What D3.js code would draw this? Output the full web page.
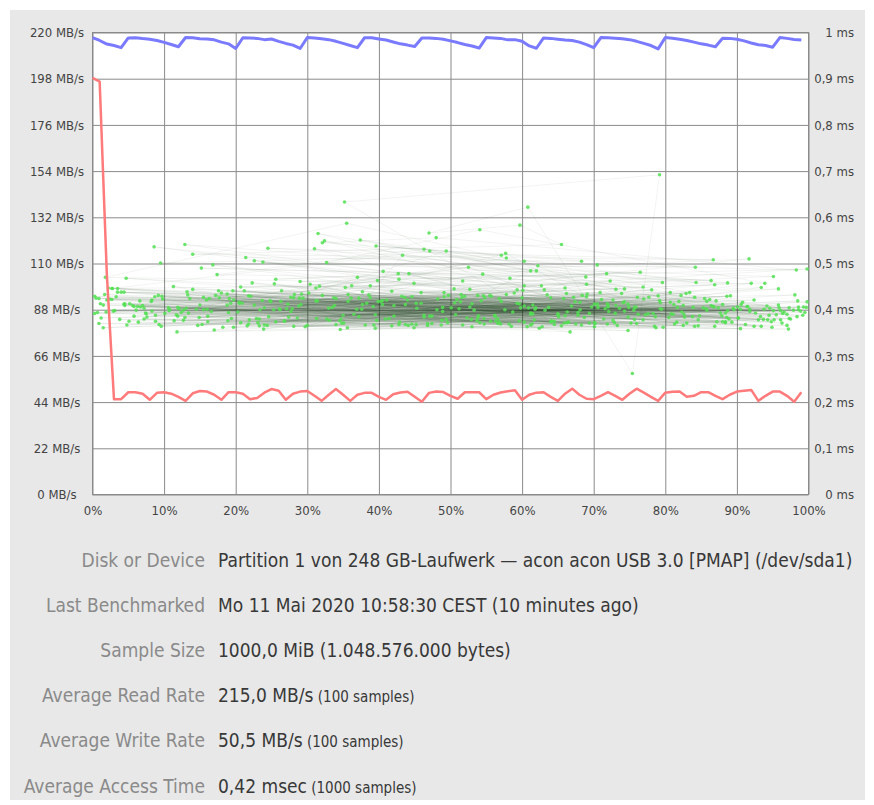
<!DOCTYPE html>
<html>
<head>
<meta charset="utf-8">
<script src="https://cdn.jsdelivr.net/npm/d3@7"></script>
<style>
  html, body { margin: 0; padding: 0; background: #fff; }
  svg { display: block; font-family: "DejaVu Sans Condensed", "DejaVu Sans", sans-serif; font-stretch: condensed; }
</style>
</head>
<body>
<div id="chart"></div>
<script>
// Read rate in MB/s, one sample per 1% of the disk.
const readRate = [
  217.6, 216.2, 214.5, 213.8, 212.8, 217.4, 217.5, 217.1, 216.8, 216.2,
  215.3, 214.3, 213.2, 217.6, 217.5, 217.0, 216.9, 216.5, 215.4, 214.6,
  212.4, 217.5, 217.4, 217.2, 216.6, 216.9, 215.8, 214.8, 214.0, 212.4,
  217.6, 217.4, 217.0, 216.6, 215.8, 214.8, 213.8, 212.8, 217.5, 217.5,
  216.9, 216.4, 215.5, 214.6, 214.0, 213.3, 217.4, 217.4, 217.2, 216.8,
  216.0, 215.2, 214.3, 213.6, 212.6, 217.6, 217.4, 217.2, 216.5, 216.6,
  215.8, 213.6, 212.5, 217.4, 217.2, 216.8, 216.4, 216.2, 215.4, 214.2,
  212.8, 217.6, 217.5, 217.3, 217.0, 216.6, 215.8, 214.8, 213.8, 212.2,
  217.6, 217.3, 216.8, 216.2, 215.4, 214.6, 214.0, 213.2, 217.3, 217.2,
  216.8, 216.0, 215.0, 214.2, 213.8, 213.0, 217.6, 217.2, 216.7, 216.4
];

// Write rate in MB/s, one sample per 1% of the disk.
const writeRate = [
  198.4, 196.6, 105.0, 45.4, 45.4, 48.7, 48.7, 48.0, 45.1, 48.4,
  48.7, 48.0, 46.5, 44.6, 48.2, 49.3, 49.0, 47.5, 45.1, 48.7,
  48.7, 48.0, 45.4, 46.0, 48.5, 50.2, 49.4, 45.1, 48.0, 49.0,
  49.3, 47.0, 44.6, 47.5, 50.2, 47.5, 44.6, 47.5, 48.4, 48.4,
  46.5, 45.1, 47.7, 48.6, 48.9, 46.5, 44.2, 48.4, 49.0, 48.8,
  47.0, 45.6, 48.7, 48.7, 48.7, 45.4, 47.5, 48.6, 49.2, 49.6,
  45.1, 47.5, 48.5, 48.7, 46.5, 44.6, 48.0, 50.4, 47.5, 45.6,
  45.4, 47.0, 48.7, 47.0, 45.1, 48.0, 50.4, 48.5, 46.5, 44.6,
  48.5, 48.9, 49.0, 46.5, 47.0, 48.7, 48.7, 47.0, 45.4, 47.5,
  49.0, 49.4, 49.8, 44.6, 47.0, 49.0, 49.0, 47.0, 44.2, 48.7
];

// Access time samples in sample order: offset in per mille of the disk.
const accessOffset = [
  512, 87, 933, 264, 701, 45, 388, 826, 159, 617, 973, 302, 468, 741, 19, 555, 226, 889, 403, 660,
  134, 792, 351, 578, 9, 905, 442, 687, 273, 846, 520, 61, 958, 397, 723, 188, 614, 35, 867, 489,
  777, 246, 993, 428, 113, 650, 310, 871, 537, 72, 709, 182, 945, 361, 598, 27, 816, 459, 239, 684,
  566, 920, 205, 743, 381, 98, 631, 857, 292, 474, 15, 760, 543, 168, 902, 335, 690, 51, 418, 812,
  357, 640, 121, 981, 507, 254, 733, 83, 884, 436, 619, 196, 952, 288, 577, 730, 3, 841, 376, 149,
  901, 463, 218, 675, 40, 793, 529, 317, 966, 106, 612, 449, 855, 274, 720, 589, 170, 938, 345, 66,
  694, 291, 829, 153, 548, 986, 414, 22, 757, 603, 237, 879, 370, 127, 655, 497, 915, 75, 781, 331,
  441, 862, 190, 627, 56, 748, 386, 963, 279, 571, 811, 132, 494, 706, 324, 918, 5, 645, 209, 539,
  985, 347, 720, 92, 582, 253, 834, 471, 163, 607, 942, 398, 31, 769, 516, 231, 880, 662, 117, 453,
  268, 596, 823, 140, 711, 48, 959, 433, 365, 674, 207, 891, 527, 12, 748, 304, 585, 926, 177, 632,
  853, 119, 474, 908, 282, 663, 35, 547, 797, 226, 989, 411, 601, 88, 736, 350, 869, 193, 570, 446,
  651, 314, 948, 58, 533, 807, 244, 719, 427, 160, 886, 372, 624, 997, 101, 488, 770, 261, 934, 568,
  17, 783, 399, 645, 212, 874, 562, 96, 727, 338, 975, 481, 155, 603, 830, 277, 691, 45, 517, 914,
  388, 702, 131, 955, 459, 297, 819, 612, 70, 743, 523, 189, 896, 340, 667, 7, 786, 432, 240, 961,
  576, 223, 848, 405, 93, 681, 321, 934, 509, 166, 762, 44, 637, 872, 281, 494, 979, 129, 705, 356,
  827, 67, 541, 289, 756, 998, 418, 180, 615, 864, 233, 491, 29, 719, 362, 946, 593, 114, 678, 440,
  203, 628, 906, 357, 82, 772, 501, 256, 841, 593, 145, 984, 315, 701, 468, 27, 858, 546, 194, 759,
  482, 937, 107, 669, 393, 822, 249, 562, 15, 716, 377, 893, 150, 640, 964, 300, 807, 58, 525, 681,
  729, 188, 612, 52, 895, 340, 658, 973, 421, 124, 785, 263, 538, 887, 76, 449, 697, 218, 924, 369,
  615, 3, 846, 277, 530, 749, 176, 992, 405, 663, 330, 97, 808, 452, 240, 951, 583, 136, 714, 868,
  294, 556, 918, 161, 790, 437, 63, 683, 353, 877, 514, 229, 949, 600, 108, 739, 395, 825, 20, 566,
  961, 205, 672, 429, 839, 88, 515, 757, 312, 986, 147, 618, 886, 372, 44, 701, 262, 545, 805, 191,
  463, 731, 33, 587, 912, 248, 795, 133, 641, 377, 970, 489, 216, 858, 527, 83, 694, 337, 609, 902,
  172, 650, 383, 924, 271, 557, 838, 11, 721, 446, 197, 995, 603, 327, 761, 119, 884, 491, 234, 678,
  817, 348, 568, 74, 743, 286, 958, 421, 635, 155, 869, 506, 24, 776, 392, 943, 221, 660, 793, 530,
  47, 312, 578, 843, 129, 406, 690, 951, 238, 517, 769, 18, 355, 622, 887, 174, 463, 731, 290, 998,
  603, 86, 428, 765, 207, 939, 541, 327, 864, 152, 689, 471, 28, 796, 374, 620, 256, 917, 505, 718,
  395, 825, 118, 659, 281, 972, 547, 64, 748, 437, 197, 880, 346, 612, 9, 787, 496, 233, 905, 563,
  161, 727, 452, 38, 884, 313, 596, 970, 219, 665, 409, 813, 127, 538, 268, 752, 930, 487, 72, 641,
  352, 792, 754, 608, 470, 597, 655, 140, 867, 245, 705, 983, 480, 321, 571, 95, 842, 396, 683, 214
];

// Access time of each sample in microseconds.
const accessTime = [
  402, 428, 385, 441, 372, 409, 452, 390, 421, 378, 404, 436, 366, 415, 395, 431, 506, 380, 418, 447,
  393, 420, 371, 433, 424, 401, 478, 383, 412, 365, 429, 399, 445, 377, 462, 410, 369, 438, 407, 396,
  427, 385, 406, 368, 450, 391, 532, 419, 376, 403, 437, 362, 388, 425, 404, 446, 373, 414, 358, 431,
  381, 457, 416, 397, 367, 423, 443, 402, 434, 386, 410, 370, 419, 497, 382, 405, 428, 375, 440, 411,
  418, 374, 402, 432, 389, 456, 366, 421, 393, 427, 404, 441, 378, 408, 522, 392, 429, 364, 401, 383,
  406, 388, 430, 369, 438, 415, 379, 451, 395, 404, 484, 361, 424, 384, 409, 436, 356, 401, 376, 419,
  392, 411, 435, 368, 426, 400, 381, 447, 405, 373, 420, 387, 470, 399, 365, 431, 407, 391, 443, 377,
  366, 422, 394, 452, 409, 384, 432, 371, 402, 418, 390, 439, 379, 405, 549, 396, 425, 368, 414, 387,
  419, 380, 406, 431, 369, 400, 437, 386, 424, 363, 408, 463, 398, 378, 427, 372, 411, 435, 389, 403,
  376, 413, 395, 444, 422, 367, 404, 518, 390, 417, 372, 430, 406, 382, 412, 455, 364, 393, 426, 399,
  404, 386, 370, 416, 433, 395, 446, 381, 362, 410, 397, 421, 442, 375, 403, 388, 454, 414, 369, 428,
  385, 419, 374, 407, 399, 437, 366, 413, 478, 401, 383, 425, 360, 405, 392, 377, 423, 402, 448, 373,
  433, 392, 418, 375, 441, 404, 386, 364, 421, 409, 380, 400, 427, 505, 371, 396, 434, 413, 367, 407,
  426, 370, 403, 389, 437, 363, 418, 393, 409, 445, 382, 376, 400, 424, 352, 394, 385, 429, 404, 378,
  400, 458, 387, 411, 368, 416, 431, 364, 422, 396, 390, 438, 405, 374, 426, 527, 399, 383, 412, 361,
  384, 406, 372, 425, 399, 417, 365, 436, 391, 409, 380, 428, 397, 369, 452, 403, 414, 376, 394, 421,
  395, 363, 411, 433, 418, 389, 404, 374, 427, 443, 401, 385, 565, 412, 370, 422, 399, 430, 381, 406,
  423, 379, 398, 408, 367, 431, 417, 388, 361, 402, 439, 373, 410, 426, 392, 366, 416, 386, 492, 400,
  372, 434, 390, 413, 403, 368, 424, 381, 409, 394, 364, 418, 431, 398, 384, 457, 406, 369, 421, 401,
  410, 392, 378, 427, 363, 405, 441, 388, 420, 372, 403, 429, 391, 414, 367, 398, 468, 424, 380, 406,
  425, 375, 401, 386, 430, 411, 407, 367, 448, 393, 417, 381, 362, 426, 400, 435, 389, 409, 421, 370,
  398, 414, 427, 373, 405, 388, 433, 379, 419, 406, 366, 401, 429, 385, 412, 363, 400, 477, 383, 424,
  384, 409, 428, 395, 368, 420, 401, 432, 376, 411, 390, 405, 365, 418, 444, 397, 371, 426, 404, 382,
  431, 389, 414, 364, 402, 429, 385, 413, 396, 369, 421, 394, 408, 380, 427, 405, 374, 437, 400, 388,
  405, 371, 424, 393, 417, 382, 410, 386, 432, 400, 364, 415, 423, 391, 407, 378, 429, 387, 402, 413,
  468, 447, 512, 459, 541, 483, 455, 472, 503, 462, 449, 470, 587, 495, 458, 476, 531, 444, 461, 488,
  452, 536, 466, 481, 449, 457, 573, 502, 463, 490, 471, 527, 446, 459, 551, 484, 466, 510, 445, 478,
  360, 366, 352, 371, 364, 358, 369, 373, 355, 368, 362, 374, 357, 367, 370, 361, 372, 365, 359, 376,
  374, 377, 368, 379, 372, 381, 376, 366, 378, 373, 380, 369, 377, 382, 375, 371, 378, 367, 380, 374,
  633, 692, 262, 622, 566, 583, 541, 520, 508, 533, 497, 486, 556, 545, 518, 501, 492, 538, 505, 513
];

const rateTicks = [0, 22, 44, 66, 88, 110, 132, 154, 176, 198, 220];
const timeTicks = [0, 0.1, 0.2, 0.3, 0.4, 0.5, 0.6, 0.7, 0.8, 0.9, 1];
const percentTicks = [0, 10, 20, 30, 40, 50, 60, 70, 80, 90, 100];

const infoLabels = ['Disk or Device', 'Last Benchmarked', 'Sample Size', 'Average Read Rate', 'Average Write Rate', 'Average Access Time'];
const infoValues = [
  'Partition 1 von 248 GB-Laufwerk \u2014 acon acon USB 3.0 [PMAP] (/dev/sda1)',
  'Mo 11 Mai 2020 10:58:30 CEST (10 minutes ago)',
  '1000,0 MiB (1.048.576.000 bytes)',
  '215,0 MB/s',
  '50,5 MB/s',
  '0,42 msec'
];
const infoNotes = ['', '', '', '(100 samples)', '(100 samples)', '(1000 samples)'];

function chart() {
  const attrs = {
    svgWidth: 874,
    svgHeight: 805,
    marginTop: 32.5,
    marginLeft: 92.5,
    chartWidth: 716,
    chartHeight: 462,
    container: '#chart',
    panelColor: '#e8e8e8',
    gridColor: '#8a8a8a',
    tickColor: '#444',
    readColor: '#7a7aff',
    writeColor: '#ff7a7a',
    dotColor: '#52e052',
    meshColor: '#1f4a1f',
    labelColor: '#8a8a8a',
    valueColor: '#383838'
  };

  const svg = d3.select(attrs.container).append('svg')
    .attr('width', attrs.svgWidth)
    .attr('height', attrs.svgHeight);

  // Grey panel behind everything.
  svg.append('rect')
    .attr('x', 10).attr('y', 10)
    .attr('width', 855).attr('height', 790)
    .attr('fill', attrs.panelColor);

  const chart = svg.append('g')
    .attr('transform', 'translate(' + attrs.marginLeft + ',' + attrs.marginTop + ')');

  chart.append('rect')
    .attr('width', attrs.chartWidth)
    .attr('height', attrs.chartHeight)
    .attr('fill', '#fff');

  // Scales.
  const x = d3.scaleLinear().domain([0, 100]).range([0, attrs.chartWidth]);
  const yRate = d3.scaleLinear().domain([0, 220]).range([attrs.chartHeight, 0]);
  const yTime = d3.scaleLinear().domain([0, 1]).range([attrs.chartHeight, 0]);

  const de = d3.formatLocale({ decimal: ',', thousands: '.', grouping: [3], currency: ['', ' \u20ac'] });
  const msFormat = de.format('.1~f');

  // Axes, with their ticks stretched into the grid.
  const leftAxis = chart.append('g')
    .call(d3.axisLeft(yRate).tickValues(rateTicks).tickSize(-attrs.chartWidth).tickFormat(d => d + ' MB/s'));

  const bottomAxis = chart.append('g')
    .attr('transform', 'translate(0,' + attrs.chartHeight + ')')
    .call(d3.axisBottom(x).tickValues(percentTicks).tickSize(-attrs.chartHeight).tickFormat(d => d + '%'));

  const rightAxis = chart.append('g')
    .attr('transform', 'translate(' + attrs.chartWidth + ',0)')
    .call(d3.axisRight(yTime).tickValues(timeTicks).tickSize(0).tickFormat(d => msFormat(d) + ' ms'));

  [leftAxis, bottomAxis, rightAxis].forEach(axis => {
    axis.attr('font-family', null).attr('font-size', 13);
    axis.select('.domain').remove();
    axis.selectAll('.tick line').attr('stroke', attrs.gridColor);
    axis.selectAll('.tick text').attr('fill', attrs.tickColor);
  });

  leftAxis.selectAll('.tick text')
    .attr('x', -35.5)
    .attr('text-anchor', 'middle');

  bottomAxis.selectAll('.tick text')
    .attr('y', 15.5)
    .attr('dy', '0.35em');

  rightAxis.selectAll('.tick text')
    .attr('x', 45.5)
    .attr('text-anchor', 'end');

  chart.append('rect')
    .attr('width', attrs.chartWidth)
    .attr('height', attrs.chartHeight)
    .attr('fill', 'none')
    .attr('stroke', attrs.gridColor);

  // Access time: faint lines between consecutive samples, then the dots.
  const access = accessOffset.map((d, i) => ({ x: d / 10, y: accessTime[i] / 1000 }));

  chart.append('g')
    .selectAll('line')
    .data(d3.pairs(access))
    .join('line')
    .attr('x1', d => x(d[0].x))
    .attr('y1', d => yTime(d[0].y))
    .attr('x2', d => x(d[1].x))
    .attr('y2', d => yTime(d[1].y))
    .attr('stroke', attrs.meshColor)
    .attr('stroke-opacity', 0.06)
    .attr('stroke-width', 1);

  chart.append('g')
    .selectAll('circle')
    .data(access)
    .join('circle')
    .attr('cx', d => x(d.x))
    .attr('cy', d => yTime(d.y))
    .attr('r', 1.8)
    .attr('fill', attrs.dotColor)
    .attr('fill-opacity', 0.85);

  // Read and write rate lines.
  const rateLine = d3.line()
    .x((d, i) => x(i))
    .y(d => yRate(d));

  chart.append('path')
    .datum(writeRate)
    .attr('d', rateLine)
    .attr('fill', 'none')
    .attr('stroke', attrs.writeColor)
    .attr('stroke-width', 2.5)
    .attr('stroke-linejoin', 'round');

  chart.append('path')
    .datum(readRate)
    .attr('d', rateLine)
    .attr('fill', 'none')
    .attr('stroke', attrs.readColor)
    .attr('stroke-width', 3)
    .attr('stroke-linejoin', 'round');

  // Info rows below the chart.
  const rowY = d3.scalePoint().domain(infoLabels).range([560, 786]);

  const rows = svg.append('g')
    .selectAll('g')
    .data(infoLabels)
    .join('g')
    .attr('transform', d => 'translate(0,' + rowY(d) + ')');

  rows.append('text')
    .attr('x', 205)
    .attr('dy', '0.35em')
    .attr('text-anchor', 'end')
    .attr('font-size', 19)
    .attr('fill', attrs.labelColor)
    .text(d => d);

  const values = rows.append('text')
    .attr('x', 218)
    .attr('dy', '0.35em')
    .attr('font-size', 19)
    .attr('fill', attrs.valueColor);

  values.append('tspan').text((d, i) => infoValues[i]);
  values.append('tspan')
    .attr('font-size', 15)
    .text((d, i) => infoNotes[i] ? ' ' + infoNotes[i] : '');
}

chart();
</script>
</body>
</html>
